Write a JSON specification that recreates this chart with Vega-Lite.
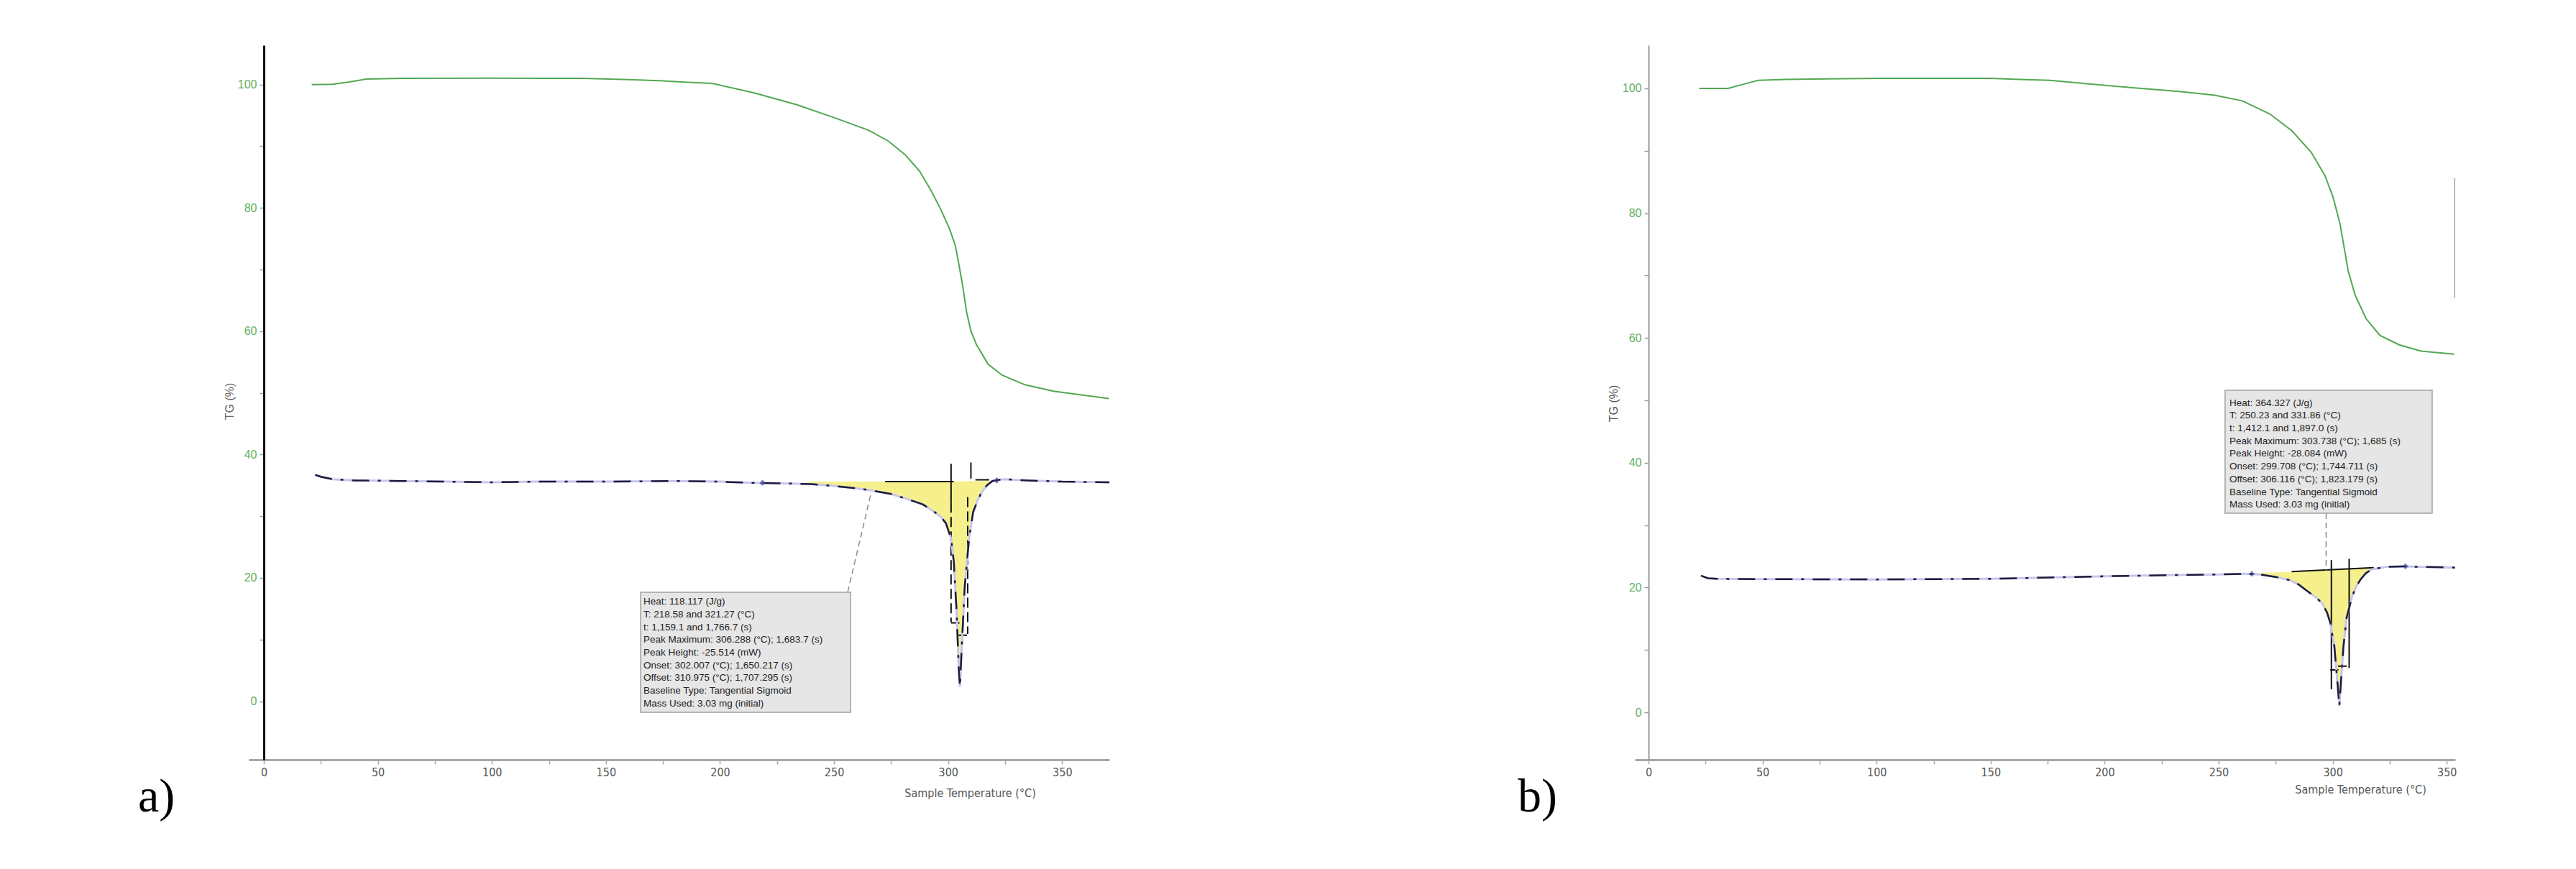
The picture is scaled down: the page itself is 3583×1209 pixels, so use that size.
{
  "$schema": "https://vega.github.io/schema/vega-lite/v6.json",
  "padding": {"left": 191, "top": 63, "right": 5, "bottom": 5},
  "background": "white",
  "bounds": "flush",
  "spacing": 731,
  "config": {"view": {"stroke": null}, "axis": {"grid": false}, "font": "Liberation Sans"},
  "datasets": {
    "tgA": [{"t":21,"v":100.0},{"t":30,"v":100.05},{"t":37,"v":100.4},{"t":45,"v":100.9},{"t":60,"v":101.0},{"t":100,"v":101.05},{"t":140,"v":101.0},{"t":160,"v":100.8},{"t":175,"v":100.6},{"t":184.1,"v":100.4},{"t":196.6,"v":100.19},{"t":215.3,"v":98.62},{"t":234,"v":96.7},{"t":250.2,"v":94.61},{"t":265.1,"v":92.6},{"t":273.9,"v":90.81},{"t":281.3,"v":88.58},{"t":287.6,"v":85.9},{"t":292.6,"v":82.77},{"t":296.9,"v":79.66},{"t":300.7,"v":76.54},{"t":303.2,"v":73.86},{"t":305,"v":70.29},{"t":306.3,"v":67.6},{"t":308.1,"v":63.15},{"t":310,"v":60.02},{"t":312.5,"v":57.78},{"t":317.5,"v":54.66},{"t":323.7,"v":52.87},{"t":333.7,"v":51.31},{"t":346.2,"v":50.28},{"t":358.6,"v":49.66},{"t":370.5,"v":49.08}],
    "dscA": [{"t":22.5,"v":36.7},{"t":25,"v":36.4},{"t":30,"v":36.0},{"t":40,"v":35.8},{"t":60,"v":35.7},{"t":80,"v":35.6},{"t":100,"v":35.5},{"t":120,"v":35.6},{"t":150,"v":35.6},{"t":180,"v":35.7},{"t":200,"v":35.6},{"t":215,"v":35.4},{"t":230,"v":35.3},{"t":240,"v":35.2},{"t":250,"v":34.9},{"t":258,"v":34.6},{"t":266,"v":34.2},{"t":275,"v":33.6},{"t":282,"v":32.8},{"t":289,"v":31.9},{"t":294,"v":30.7},{"t":297,"v":29.8},{"t":299,"v":28.9},{"t":301.3,"v":26.4},{"t":302.5,"v":22.6},{"t":303.7,"v":14.8},{"t":304.7,"v":5.1},{"t":305.2,"v":2.3},{"t":306,"v":8.9},{"t":307.3,"v":18.6},{"t":309.2,"v":26.4},{"t":311,"v":30.7},{"t":313,"v":32.6},{"t":314.6,"v":33.8},{"t":317,"v":35.0},{"t":319.4,"v":35.7},{"t":324,"v":36.0},{"t":335,"v":35.8},{"t":350,"v":35.6},{"t":370.7,"v":35.5}],
    "fillA": [{"t":238.5,"v":35.25,"v2":35.6},{"t":245,"v":35.05,"v2":35.6},{"t":250,"v":34.9,"v2":35.6},{"t":258,"v":34.6,"v2":35.6},{"t":266,"v":34.2,"v2":35.6},{"t":275,"v":33.6,"v2":35.6},{"t":282,"v":32.8,"v2":35.6},{"t":289,"v":31.9,"v2":35.6},{"t":294,"v":30.7,"v2":35.65},{"t":297,"v":29.8,"v2":35.65},{"t":299,"v":28.9,"v2":35.65},{"t":301.3,"v":26.4,"v2":35.65},{"t":302.5,"v":22.6,"v2":35.65},{"t":303.7,"v":14.8,"v2":35.65},{"t":304.7,"v":5.1,"v2":35.65},{"t":305.2,"v":2.3,"v2":35.65},{"t":306,"v":8.9,"v2":35.65},{"t":307.3,"v":18.6,"v2":35.65},{"t":309.2,"v":26.4,"v2":35.7},{"t":311,"v":30.7,"v2":35.7},{"t":313,"v":32.6,"v2":35.7},{"t":314.6,"v":33.8,"v2":35.7},{"t":317,"v":35.0,"v2":35.7},{"t":319.4,"v":35.7,"v2":35.7}],
    "solidA": [{"t":301.3,"t2":301.3,"v":38.5,"v2":32.2},{"t":310,"t2":310,"v":38.7,"v2":36.1},{"t":272.4,"t2":302.5,"v":35.6,"v2":35.6},{"t":312,"t2":318,"v":35.9,"v2":35.9},{"t":301.3,"t2":305,"v":12.7,"v2":12.7},{"t":304.4,"t2":308.3,"v":10.7,"v2":10.7}],
    "dashA": [{"t":301.3,"t2":301.3,"v":32.2,"v2":12.8},{"t":308.6,"t2":308.6,"v":33.1,"v2":10.9}],
    "leadA": [{"t":256,"t2":266,"v":17.7,"v2":33.4}],
    "ptsA": [{"t":218.6,"v":35.4},{"t":321.3,"v":35.8}],
    "boxA": [{"t":165.2,"t2":257.3,"v":17.66,"v2":-1.81}],
    "txtA": [{"t":166.4,"v":16.15,"s":"Heat: 118.117 (J/g)"},{"t":166.4,"v":14.05,"s":"T: 218.58 and 321.27 (°C)"},{"t":166.4,"v":11.95,"s":"t: 1,159.1 and 1,766.7 (s)"},{"t":166.4,"v":9.97,"s":"Peak Maximum: 306.288 (°C); 1,683.7 (s)"},{"t":166.4,"v":7.87,"s":"Peak Height: -25.514 (mW)"},{"t":166.4,"v":5.77,"s":"Onset: 302.007 (°C); 1,650.217 (s)"},{"t":166.4,"v":3.79,"s":"Offset: 310.975 (°C); 1,707.295 (s)"},{"t":166.4,"v":1.69,"s":"Baseline Type: Tangential Sigmoid"},{"t":166.4,"v":-0.41,"s":"Mass Used: 3.03 mg (initial)"}],
    "labA": [{"t":-55.2,"v":-17.9,"s":"a)"}],
    "tgB": [{"t":22.2,"v":100.0},{"t":34.9,"v":100.0},{"t":42,"v":100.7},{"t":48.1,"v":101.3},{"t":60,"v":101.45},{"t":100,"v":101.6},{"t":150,"v":101.6},{"t":175.9,"v":101.3},{"t":194,"v":100.7},{"t":212.1,"v":100.1},{"t":232.6,"v":99.5},{"t":248.3,"v":98.9},{"t":260.4,"v":98.0},{"t":272.4,"v":95.9},{"t":282.1,"v":93.2},{"t":290.5,"v":89.8},{"t":296.6,"v":86.0},{"t":300.2,"v":82.5},{"t":303.2,"v":78.3},{"t":305,"v":74.5},{"t":306.8,"v":70.7},{"t":309.8,"v":66.9},{"t":314.6,"v":63.1},{"t":320.7,"v":60.4},{"t":329.1,"v":58.9},{"t":338.8,"v":57.9},{"t":353.3,"v":57.4}],
    "dscB": [{"t":23,"v":21.9},{"t":26,"v":21.5},{"t":30,"v":21.4},{"t":50,"v":21.35},{"t":100,"v":21.3},{"t":150,"v":21.4},{"t":175,"v":21.6},{"t":200,"v":21.8},{"t":230,"v":22.0},{"t":250,"v":22.1},{"t":261,"v":22.2},{"t":268,"v":22.1},{"t":275,"v":21.7},{"t":281,"v":21.2},{"t":285,"v":20.5},{"t":289,"v":19.4},{"t":293,"v":18.3},{"t":295.3,"v":17.5},{"t":297.5,"v":16.0},{"t":298.9,"v":14.4},{"t":300.7,"v":10.6},{"t":302.3,"v":3.7},{"t":302.9,"v":1.0},{"t":303.8,"v":6.0},{"t":304.7,"v":10.6},{"t":306.1,"v":15.2},{"t":308.6,"v":18.7},{"t":310.5,"v":20.3},{"t":312.2,"v":21.3},{"t":314.5,"v":22.3},{"t":317,"v":22.9},{"t":323,"v":23.3},{"t":331,"v":23.4},{"t":340,"v":23.3},{"t":353.7,"v":23.2}],
    "fillB": [{"t":266,"v":22.1,"v2":22.3},{"t":275,"v":21.7,"v2":22.45},{"t":281,"v":21.2,"v2":22.55},{"t":285,"v":20.5,"v2":22.6},{"t":289,"v":19.4,"v2":22.7},{"t":293,"v":18.3,"v2":22.75},{"t":295.3,"v":17.5,"v2":22.8},{"t":297.5,"v":16.0,"v2":22.85},{"t":298.9,"v":14.4,"v2":22.85},{"t":300.7,"v":10.6,"v2":22.9},{"t":302.3,"v":3.7,"v2":22.9},{"t":302.9,"v":1.0,"v2":22.9},{"t":303.8,"v":6.0,"v2":22.9},{"t":304.7,"v":10.6,"v2":22.95},{"t":306.1,"v":15.2,"v2":22.95},{"t":308.6,"v":18.7,"v2":23.0},{"t":310.5,"v":20.3,"v2":23.05},{"t":312.2,"v":21.3,"v2":23.1},{"t":314.5,"v":22.3,"v2":23.15},{"t":317,"v":22.9,"v2":23.2},{"t":318,"v":23.1,"v2":23.2}],
    "solidB": [{"t":299.4,"t2":299.4,"v":24.4,"v2":3.7},{"t":307.2,"t2":307.2,"v":24.6,"v2":7.1},{"t":282,"t2":318,"v":22.55,"v2":23.2},{"t":298.9,"t2":302.5,"v":6.8,"v2":6.8},{"t":302.3,"t2":306.1,"v":7.4,"v2":7.4}],
    "leadB": [{"t":297.1,"t2":297.1,"v":31.9,"v2":22.6}],
    "ptsB": [{"t":264.5,"v":22.2},{"t":331.9,"v":23.4}],
    "grayB": [{"t":353.4,"t2":353.4,"v":85.6,"v2":66.4}],
    "boxB": [{"t":252.8,"t2":343.6,"v":51.6,"v2":31.9}],
    "txtB": [{"t":254.7,"v":49.57,"s":"Heat: 364.327 (J/g)"},{"t":254.7,"v":47.53,"s":"T: 250.23 and 331.86 (°C)"},{"t":254.7,"v":45.49,"s":"t: 1,412.1 and 1,897.0 (s)"},{"t":254.7,"v":43.46,"s":"Peak Maximum: 303.738 (°C); 1,685 (s)"},{"t":254.7,"v":41.42,"s":"Peak Height: -28.084 (mW)"},{"t":254.7,"v":39.38,"s":"Onset: 299.708 (°C); 1,744.711 (s)"},{"t":254.7,"v":37.34,"s":"Offset: 306.116 (°C); 1,823.179 (s)"},{"t":254.7,"v":35.3,"s":"Baseline Type: Tangential Sigmoid"},{"t":254.7,"v":33.26,"s":"Mass Used: 3.03 mg (initial)"}],
    "labB": [{"t":-57.4,"v":-15.9,"s":"b)"}]
  },
  "hconcat": [
    {
      "width": 1197,
      "height": 994,
      "encoding": {
        "x": {"field": "t", "type": "quantitative",
          "scale": {"domain": [-6.62, 370.7], "nice": false, "zero": false},
          "axis": {"values": [0,25,50,75,100,125,150,175,200,225,250,275,300,325,350], "labelExpr": "datum.value % 50 == 0 ? datum.label : ''", "format": "d",
            "domainColor": "#a8a8a8", "domainWidth": 3, "tickColor": "#a8a8a8", "tickWidth": 1.5, "tickSize": 6,
            "labelColor": "#555555", "labelFont": "Liberation Sans Narrow, DejaVu Sans Condensed, sans-serif", "labelFontSize": 16, "labelPadding": 3,
            "title": "Sample Temperature (°C)", "titleColor": "#555555", "titleFont": "Liberation Sans Narrow, DejaVu Sans Condensed, sans-serif", "titleFontSize": 16, "titleFontWeight": "normal",
            "titleX": 1003, "titleY": 46, "titleAlign": "center", "titleBaseline": "middle"}},
        "y": {"field": "v", "type": "quantitative",
          "scale": {"domain": [-9.5, 106.37], "nice": false, "zero": false},
          "axis": {"values": [0,10,20,30,40,50,60,70,80,90,100], "labelExpr": "datum.value % 20 == 0 ? datum.label : ''", "format": "d", "offset": -21,
            "domainColor": "#111111", "domainWidth": 3, "tickColor": "#999999", "tickWidth": 1.5, "tickSize": 6,
            "labelColor": "#62b062", "labelFont": "Liberation Sans", "labelFontSize": 16, "labelPadding": 4,
            "title": "TG (%)", "titleColor": "#666666", "titleFont": "Liberation Sans", "titleFontSize": 16, "titleFontWeight": "normal",
            "titleX": -48, "titleY": 495, "titleAngle": -90, "titleAlign": "center", "titleBaseline": "middle"}}
      },
      "layer": [
        {"data": {"name": "fillA"}, "mark": {"type": "area", "color": "#f6f08c", "opacity": 1}, "encoding": {"y2": {"field": "v2"}}},
        {"data": {"name": "solidA"}, "mark": {"type": "rule", "color": "#111111", "strokeWidth": 2}, "encoding": {"x2": {"field": "t2"}, "y2": {"field": "v2"}}},
        {"data": {"name": "dashA"}, "mark": {"type": "rule", "color": "#111111", "strokeWidth": 2, "strokeDash": [14, 6]}, "encoding": {"x2": {"field": "t2"}, "y2": {"field": "v2"}}},
        {"data": {"name": "dscA"}, "mark": {"type": "line", "color": "#c6c6ee", "strokeWidth": 3}, "encoding": {}},
        {"data": {"name": "dscA"}, "mark": {"type": "line", "color": "#1c1c3c", "strokeWidth": 2.5, "strokeDash": [24, 12, 4, 12]}, "encoding": {}},
        {"data": {"name": "ptsA"}, "mark": {"type": "point", "shape": "cross", "color": "#30308a", "size": 50, "filled": true}, "encoding": {}},
        {"data": {"name": "tgA"}, "mark": {"type": "line", "color": "#52a852", "strokeWidth": 2}, "encoding": {}},
        {"data": {"name": "leadA"}, "mark": {"type": "rule", "color": "#8a8a8a", "strokeWidth": 1.5, "strokeDash": [8, 5]}, "encoding": {"x2": {"field": "t2"}, "y2": {"field": "v2"}}},
        {"data": {"name": "boxA"}, "mark": {"type": "rect", "fill": "#e6e6e6", "stroke": "#a0a0a0", "strokeWidth": 1.5}, "encoding": {"x2": {"field": "t2"}, "y2": {"field": "v2"}}},
        {"data": {"name": "txtA"}, "mark": {"type": "text", "align": "left", "baseline": "middle", "font": "Liberation Sans", "fontSize": 13.5, "color": "#222222"}, "encoding": {"text": {"field": "s"}}},
        {"data": {"name": "labA"}, "mark": {"type": "text", "align": "left", "baseline": "alphabetic", "font": "Liberation Serif", "fontSize": 66, "color": "#000000"}, "encoding": {"text": {"field": "s"}}}
      ]
    },
    {
      "width": 1141,
      "height": 994,
      "encoding": {
        "x": {"field": "t", "type": "quantitative",
          "scale": {"domain": [-5.99, 353.7], "nice": false, "zero": false},
          "axis": {"values": [0,25,50,75,100,125,150,175,200,225,250,275,300,325,350], "labelExpr": "datum.value % 50 == 0 ? datum.label : ''", "format": "d",
            "domainColor": "#a8a8a8", "domainWidth": 3, "tickColor": "#a8a8a8", "tickWidth": 1.5, "tickSize": 6,
            "labelColor": "#555555", "labelFont": "Liberation Sans Narrow, DejaVu Sans Condensed, sans-serif", "labelFontSize": 16, "labelPadding": 3,
            "title": "Sample Temperature (°C)", "titleColor": "#555555", "titleFont": "Liberation Sans Narrow, DejaVu Sans Condensed, sans-serif", "titleFontSize": 16, "titleFontWeight": "normal",
            "titleX": 1009, "titleY": 41, "titleAlign": "center", "titleBaseline": "middle"}},
        "y": {"field": "v", "type": "quantitative",
          "scale": {"domain": [-7.6, 106.91], "nice": false, "zero": false},
          "axis": {"values": [0,10,20,30,40,50,60,70,80,90,100], "labelExpr": "datum.value % 20 == 0 ? datum.label : ''", "format": "d", "offset": -19,
            "domainColor": "#9a9a9a", "domainWidth": 2, "tickColor": "#999999", "tickWidth": 1.5, "tickSize": 6,
            "labelColor": "#62b062", "labelFont": "Liberation Sans", "labelFontSize": 16, "labelPadding": 4,
            "title": "TG (%)", "titleColor": "#555555", "titleFont": "Liberation Sans", "titleFontSize": 16, "titleFontWeight": "normal",
            "titleX": -49, "titleY": 498, "titleAngle": -90, "titleAlign": "center", "titleBaseline": "middle"}}
      },
      "layer": [
        {"data": {"name": "fillB"}, "mark": {"type": "area", "color": "#f6f08c", "opacity": 1}, "encoding": {"y2": {"field": "v2"}}},
        {"data": {"name": "solidB"}, "mark": {"type": "rule", "color": "#111111", "strokeWidth": 2}, "encoding": {"x2": {"field": "t2"}, "y2": {"field": "v2"}}},
        {"data": {"name": "dscB"}, "mark": {"type": "line", "color": "#c6c6ee", "strokeWidth": 3}, "encoding": {}},
        {"data": {"name": "dscB"}, "mark": {"type": "line", "color": "#1c1c3c", "strokeWidth": 2.5, "strokeDash": [24, 12, 4, 12]}, "encoding": {}},
        {"data": {"name": "ptsB"}, "mark": {"type": "point", "shape": "cross", "color": "#30308a", "size": 50, "filled": true}, "encoding": {}},
        {"data": {"name": "tgB"}, "mark": {"type": "line", "color": "#52a852", "strokeWidth": 2}, "encoding": {}},
        {"data": {"name": "grayB"}, "mark": {"type": "rule", "color": "#bbbbbb", "strokeWidth": 2}, "encoding": {"x2": {"field": "t2"}, "y2": {"field": "v2"}}},
        {"data": {"name": "leadB"}, "mark": {"type": "rule", "color": "#8a8a8a", "strokeWidth": 1.5, "strokeDash": [8, 5]}, "encoding": {"x2": {"field": "t2"}, "y2": {"field": "v2"}}},
        {"data": {"name": "boxB"}, "mark": {"type": "rect", "fill": "#e6e6e6", "stroke": "#a0a0a0", "strokeWidth": 1.5}, "encoding": {"x2": {"field": "t2"}, "y2": {"field": "v2"}}},
        {"data": {"name": "txtB"}, "mark": {"type": "text", "align": "left", "baseline": "middle", "font": "Liberation Sans", "fontSize": 13.5, "color": "#222222"}, "encoding": {"text": {"field": "s"}}},
        {"data": {"name": "labB"}, "mark": {"type": "text", "align": "left", "baseline": "alphabetic", "font": "Liberation Serif", "fontSize": 66, "color": "#000000"}, "encoding": {"text": {"field": "s"}}}
      ]
    }
  ]
}
